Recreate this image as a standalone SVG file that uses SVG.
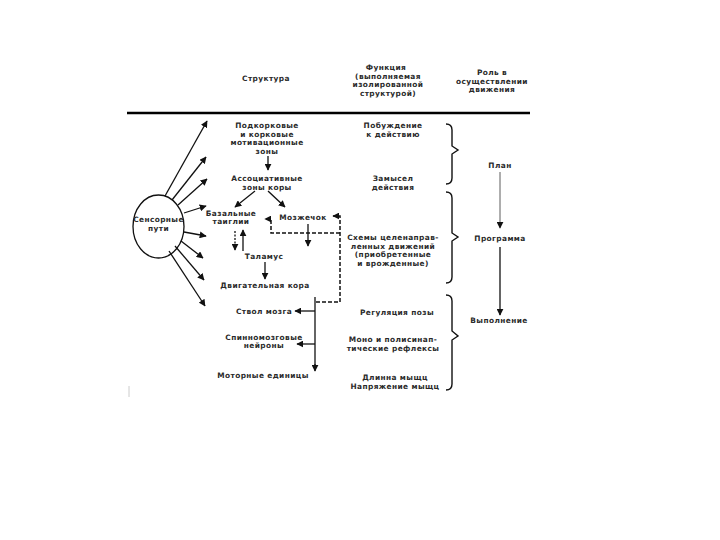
<svg xmlns="http://www.w3.org/2000/svg" width="720" height="540" viewBox="0 0 720 540">
<defs>
<marker id="ah" viewBox="0 0 10 10" refX="9" refY="5" markerWidth="7" markerHeight="7" markerUnits="userSpaceOnUse" orient="auto"><path d="M0,0 L10,5 L0,10 z" fill="#111"/></marker>
<style>
text{font-family:"DejaVu Sans","Liberation Sans",sans-serif;font-size:7.4px;letter-spacing:0.4px;font-weight:bold;fill:#2a2a2a;text-anchor:middle}
.ln{stroke:#111;stroke-width:1.3;fill:none}
.ar{stroke:#111;stroke-width:1.3;fill:none;marker-end:url(#ah)}
.thin{stroke:#333;stroke-width:0.8;fill:none;marker-end:url(#ah)}
.ds{stroke:#111;stroke-width:1.5;fill:none;stroke-dasharray:4 2}
.br{stroke:#111;stroke-width:1.4;fill:none}
</style>
</defs>
<rect width="720" height="540" fill="#fff"/>
<g id="header">
<text x="266" y="81">Структура</text>
<text x="386" y="70">Функция</text>
<text x="388" y="78.5">(выполняемая</text>
<text x="388" y="87">изолированной</text>
<text x="388" y="95.5">структурой)</text>
<text x="492" y="75">Роль в</text>
<text x="492" y="83.5">осуществлении</text>
<text x="492" y="92">движения</text>
<line x1="127" y1="113" x2="530" y2="113" stroke="#000" stroke-width="2.6"/>
</g>
<g id="sensory">
<ellipse cx="158.5" cy="226.5" rx="25.5" ry="31.5" fill="#fff" stroke="#111" stroke-width="1.3"/>
<text x="158.5" y="222">Сенсорные</text>
<text x="158.5" y="231">пути</text>
</g>
<g id="motivation"><text x="267" y="128">Подкорковые</text><text x="267" y="136.5">и корковые</text><text x="267" y="145">мотивационные</text><text x="267" y="153.5">зоны</text></g>
<g id="assoc"><text x="267" y="181">Ассоциативные</text><text x="267" y="189.5">зоны коры</text></g>
<g id="basal"><text x="231" y="215.5">Базальные</text><text x="231" y="224">таиглии</text></g>
<g id="cerebellum"><text x="303" y="220">Мозжечок</text></g>
<g id="thalamus"><text x="264" y="259">Таламус</text></g>
<g id="motorcortex"><text x="265" y="288">Двигательная кора</text></g>
<g id="brainstem"><text x="264" y="314">Ствол мозга</text></g>
<g id="spinal"><text x="264" y="339.5">Спинномозговые</text><text x="264" y="348">нейроны</text></g>
<g id="motorunits"><text x="263" y="378">Моторные единицы</text></g>
<g id="functions">
<text x="393" y="128">Побуждение</text><text x="393" y="136.5">к действию</text>
<text x="393" y="181">Замысел</text><text x="393" y="189.5">действия</text>
<text x="393" y="240">Схемы целенаправ-</text><text x="393" y="248.5">ленных движений</text><text x="393" y="257">(приобретенные</text><text x="393" y="265.5">и врожденные)</text>
<text x="397" y="315">Регуляция позы</text>
<text x="393" y="342">Моно и полисинап-</text><text x="393" y="350.5">тические рефлексы</text>
<text x="395" y="380">Длинна мыщц</text><text x="395" y="388.5">Напряжение мыщц</text>
</g>
<g id="roles">
<text x="500" y="168">План</text>
<text x="500" y="241">Программа</text>
<text x="499" y="323">Выполнение</text>
</g>
<g id="braces">
<path class="br" d="M446,124 Q452,124 452,130 L452,146 L458,150 L452,154 L452,178 Q452,184 446,184"/>
<path class="br" d="M446,192 Q452,192 452,198 L452,233 L458,237 L452,241 L452,277 Q452,283 446,283"/>
<path class="br" stroke-width="1" d="M446,295 Q452,295 452,301 L452,331 L458,336 L452,340 L452,384 Q452,390 446,390"/>
</g>
<g id="connectors">
<line class="ar" x1="165" y1="196" x2="207" y2="121"/>
<line class="ar" x1="172" y1="200" x2="206" y2="157"/>
<line class="ar" x1="178" y1="205" x2="207" y2="179"/>
<line class="ar" x1="184" y1="213" x2="206" y2="206"/>
<line class="ar" x1="184" y1="232" x2="206" y2="236"/>
<line class="ar" x1="181" y1="241" x2="203" y2="258"/>
<line class="ar" x1="175" y1="246" x2="204" y2="280"/>
<line class="ar" x1="169" y1="251" x2="205" y2="306"/>
<line class="ar" x1="268" y1="156" x2="268" y2="170"/>
<line class="ar" x1="255" y1="191" x2="235" y2="207"/>
<line class="ar" x1="268" y1="191" x2="285" y2="207"/>
<line class="ar" x1="308" y1="224" x2="308" y2="246"/>
<line class="ar" x1="235" y1="231" x2="235" y2="250" stroke-dasharray="2 1.5" stroke-width="1"/>
<line class="ar" x1="243" y1="251" x2="243" y2="230"/>
<line class="ar" x1="265" y1="262" x2="265" y2="279"/>
<path class="ds" d="M316,302 L340,302 L340,216 L333,216" marker-end="url(#ah)"/>
<path class="ds" d="M340,233 L271,233 L271,219 L265,219" marker-end="url(#ah)"/>
<line class="ln" x1="315" y1="297" x2="315" y2="365"/>
<line class="ar" x1="315" y1="364" x2="315" y2="371"/>
<line class="ar" x1="315" y1="311" x2="295" y2="311"/>
<line class="ar" x1="315" y1="344" x2="297" y2="344"/>
<line class="thin" x1="500" y1="172" x2="500" y2="228"/>
<line class="ar" x1="500" y1="247" x2="500" y2="315"/>
</g>
<line x1="129" y1="386" x2="129" y2="397" stroke="#ccc" stroke-width="1"/>
</svg>
